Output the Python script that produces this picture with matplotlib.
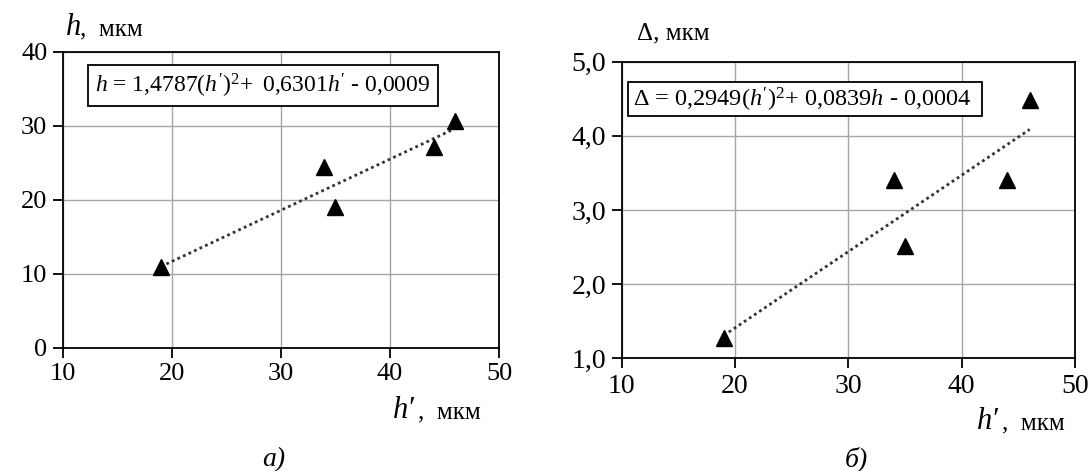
import numpy as np
import matplotlib
matplotlib.use("Agg")
import matplotlib.pyplot as plt
from matplotlib.patches import Rectangle

plt.rcParams['font.family'] = ['Liberation Serif', 'DejaVu Serif']
plt.rcParams['mathtext.fontset'] = 'custom'
plt.rcParams['mathtext.rm'] = 'Liberation Serif'
plt.rcParams['mathtext.it'] = 'Liberation Serif:italic'

# data
h_prime = [19.0, 34.0, 35.0, 44.0, 46.0]
h_vals = [10.9, 24.5, 19.1, 27.2, 30.7]
delta_vals = [1.28, 3.40, 2.51, 3.40, 4.49]

x_ticks = [10, 20, 30, 40, 50]
h_ticks = [0, 10, 20, 30, 40]
d_ticks = [1.0, 2.0, 3.0, 4.0, 5.0]
d_tick_labels = ["1,0", "2,0", "3,0", "4,0", "5,0"]

eq_a = r"$\mathit{h}$ = $\mathit{1{,}4787(h')^{2}\!+\ 0{,}6301h'}$ - 0,0009"
eq_b = r"Δ = 0,2949($\mathit{h'}$)$^{2}$+ 0,0839$\mathit{h}$ - 0,0004"

W, H = 1092, 471
fig = plt.figure(figsize=(W / 100, H / 100), dpi=100)


def px_axes(l, t, r, b):
    return fig.add_axes([l / W, 1 - b / H, (r - l) / W, (b - t) / H])


def style(ax):
    ax.grid(True, color='#a6a6a6', lw=1)
    ax.set_axisbelow(True)
    for s in ax.spines.values():
        s.set_linewidth(1.3)
    ax.tick_params(direction='out', length=7, width=1.3, pad=4)


def trend(ax, x, y):
    k, b = np.polyfit(x, y, 1)
    xs = np.array([min(x), max(x)])
    ax.plot(xs, k * xs + b, ls=(0, (1, 1.2)), color='#333333', lw=2.0, zorder=3)
    ax.plot(x, y, '^', color='black', ms=11, zorder=4)


ax1 = px_axes(62.7, 52, 499, 348)
style(ax1)
trend(ax1, h_prime, h_vals)
ax1.set_xlim(10, 50)
ax1.set_ylim(0, 40)
ax1.set_xticks(x_ticks)
ax1.set_yticks(h_ticks)
ax1.tick_params(labelsize=19)
ax1.add_patch(Rectangle((12.3, 32.7), 44.4 - 12.3, 5.5, fill=True, fc='white',
                        ec='black', lw=1.3, zorder=5))
ax1.text(13.0, 35.4, eq_a, fontsize=17, va='center', ha='left', zorder=6)

ax2 = px_axes(621.7, 61.7, 1075, 358.3)
style(ax2)
trend(ax2, h_prime, delta_vals)
ax2.set_xlim(10, 50)
ax2.set_ylim(1, 5)
ax2.set_xticks(x_ticks)
ax2.set_yticks(d_ticks)
ax2.set_yticklabels(d_tick_labels)
ax2.tick_params(labelsize=20)
ax2.add_patch(Rectangle((10.6, 4.27), 41.8 - 10.6, 0.45, fill=True, fc='white',
                        ec='black', lw=1.3, zorder=5))
ax2.text(11.0, 4.49, eq_b, fontsize=17.5, va='center', ha='left', zorder=6)

# axis labels
fig.text(66 / W, 1 - 35 / H, "h", style='italic', fontsize=22, va='baseline')
fig.text(80 / W, 1 - 35 / H, ",  мкм", fontsize=18, va='baseline')
fig.text(637 / W, 1 - 39 / H, "Δ, мкм", fontsize=18, va='baseline')
fig.text(393 / W, 1 - 418 / H, "h′", style='italic', fontsize=22, va='baseline')
fig.text(418 / W, 1 - 418 / H, ",  мкм", fontsize=18, va='baseline')
fig.text(977 / W, 1 - 429 / H, "h′", style='italic', fontsize=22, va='baseline')
fig.text(1002 / W, 1 - 429 / H, ",  мкм", fontsize=18, va='baseline')

# captions
fig.text(274 / W, 1 - 466 / H, "а)", style='italic', fontsize=20, ha='center', va='baseline')
fig.text(856 / W, 1 - 466 / H, "б)", style='italic', fontsize=20, ha='center', va='baseline')

fig.savefig("out.png", dpi=100)
